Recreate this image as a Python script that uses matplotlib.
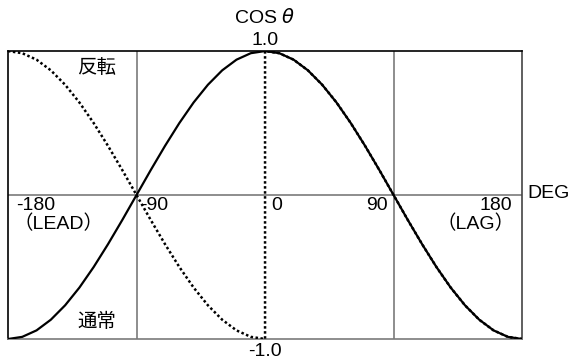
import matplotlib
matplotlib.use('Agg')
from matplotlib import pyplot as plt

plt.rcParams['font.family'] = ['Liberation Sans', 'Noto Sans CJK JP', 'DejaVu Sans']

# phase angle (deg) and cos(theta)
deg = [-180, -170, -160, -150, -140, -130, -120, -110, -100, -90,
       -80, -70, -60, -50, -40, -30, -20, -10, 0,
       10, 20, 30, 40, 50, 60, 70, 80, 90,
       100, 110, 120, 130, 140, 150, 160, 170, 180]
normal = [-1.0, -0.985, -0.940, -0.866, -0.766, -0.643, -0.5, -0.342, -0.174, 0.0,
          0.174, 0.342, 0.5, 0.643, 0.766, 0.866, 0.940, 0.985, 1.0,
          0.985, 0.940, 0.866, 0.766, 0.643, 0.5, 0.342, 0.174, 0.0,
          -0.174, -0.342, -0.5, -0.643, -0.766, -0.866, -0.940, -0.985, -1.0]

# reversed: flipped on the lead side, jumps back at 0
deg_rev = [-180, -170, -160, -150, -140, -130, -120, -110, -100, -90,
           -80, -70, -60, -50, -40, -30, -20, -10, 0,
           0, 10, 20, 30, 40, 50, 60, 70, 80, 90,
           100, 110, 120, 130, 140, 150, 160, 170, 180]
reverse = [1.0, 0.985, 0.940, 0.866, 0.766, 0.643, 0.5, 0.342, 0.174, 0.0,
           -0.174, -0.342, -0.5, -0.643, -0.766, -0.866, -0.940, -0.985, -1.0,
           1.0, 0.985, 0.940, 0.866, 0.766, 0.643, 0.5, 0.342, 0.174, 0.0,
           -0.174, -0.342, -0.5, -0.643, -0.766, -0.866, -0.940, -0.985, -1.0]

fig = plt.figure(figsize=(5.7, 3.62), dpi=100)
ax = fig.add_axes([0.014, 0.0635, 0.902, 0.7955])

grey = '#7a7a7a'
ax.axhline(0, color=grey, lw=1.2, zorder=1)
ax.axvline(-90, color=grey, lw=1.2, zorder=1)
ax.axvline(90, color=grey, lw=1.2, zorder=1)

ax.plot(deg, normal, color='black', lw=1.6, zorder=3)
ax.plot(deg_rev, reverse, color='black', lw=1.8, linestyle=(0, (1, 1)), zorder=4)

ax.set_xlim(-180, 180)
ax.set_ylim(-1, 1)
ax.set_xticks([])
ax.set_yticks([])
ax.spines['top'].set_color('black')
ax.spines['left'].set_color('black')
ax.spines['right'].set_color('#444444')
ax.spines['bottom'].set_color(grey)
for s in ax.spines.values():
    s.set_linewidth(1.2)

fs = 14
kw = dict(fontsize=fs, clip_on=False)
ax.text(0, 1.236, 'COS $\\theta$', ha='center', va='center', **kw)
ax.text(0, 1.076, '1.0', ha='center', va='center', **kw)
ax.text(0, -1.09, '-1.0', ha='center', va='center', **kw)
ax.text(-174, -0.07, '-180', ha='left', va='center', **kw)
ax.text(-176, -0.2, '（LEAD）', ha='left', va='center', **kw)
ax.text(-87.5, -0.07, '-90', ha='left', va='center', **kw)
ax.text(4, -0.07, '0', ha='left', va='center', **kw)
ax.text(86, -0.07, '90', ha='right', va='center', **kw)
ax.text(173, -0.07, '180', ha='right', va='center', **kw)
ax.text(175, -0.2, '（LAG）', ha='right', va='center', **kw)
ax.text(184, 0.01, 'DEG', ha='left', va='center', **kw)
ax.text(-118, 0.88, '反転', ha='center', va='center', **kw)
ax.text(-118, -0.88, '通常', ha='center', va='center', **kw)

fig.savefig('out.png', dpi=100)
